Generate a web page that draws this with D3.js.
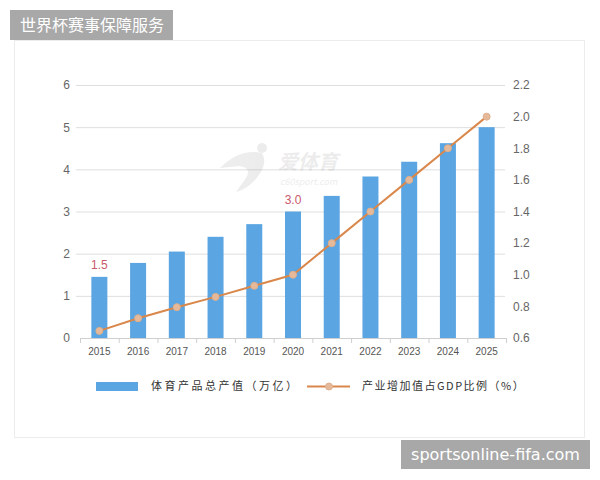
<!DOCTYPE html>
<html>
<head>
<meta charset="utf-8">
<script src="https://cdn.jsdelivr.net/npm/d3@7"></script>
<style>
  body { margin: 0; background: #fff; font-family: "Noto Sans CJK SC", "Liberation Sans", sans-serif; }
</style>
</head>
<body>
<svg id="chart" width="600" height="480"></svg>
<script>
// Data
const years = ['2015', '2016', '2017', '2018', '2019', '2020', '2021', '2022', '2023', '2024', '2025'];
const output = [1.45, 1.78, 2.05, 2.4, 2.7, 3.0, 3.37, 3.83, 4.18, 4.62, 5.0];
const gdpShare = [0.645, 0.725, 0.795, 0.86, 0.93, 1.0, 1.2, 1.4, 1.6, 1.8, 2.0];
const leftTicks = [0, 1, 2, 3, 4, 5, 6];
const rightTicks = [0.6, 0.8, 1.0, 1.2, 1.4, 1.6, 1.8, 2.0, 2.2];
const annotations = [{ year: '2015', text: '1.5' }, { year: '2020', text: '3.0' }];

const svg = d3.select('#chart');

// card
svg.append('rect')
    .attr('x', 14.5).attr('y', 40.5)
    .attr('width', 570).attr('height', 397)
    .attr('fill', '#fff').attr('stroke', '#ececec');

// layout
const plotL = 80, plotR = 506, plotT = 85, plotB = 338;

const x = d3.scaleBand().domain(years).range([plotL, plotR]);
const yL = d3.scaleLinear().domain([0, 6]).range([plotB, plotT]);
const yR = d3.scaleLinear().domain([0.6, 2.2]).range([plotB, plotT]);

// grid
svg.append('g')
    .selectAll('line')
    .data(leftTicks.slice(1))
    .enter()
    .append('line')
    .attr('x1', 76).attr('x2', 505)
    .attr('y1', d => yL(d) + 0.5).attr('y2', d => yL(d) + 0.5)
    .attr('stroke', '#dedede');

// watermark (faint logo)
const wm = svg.append('g').attr('opacity', 0.15).attr('fill', '#888');
wm.append('text').attr('x', 278).attr('y', 169)
    .attr('font-size', 20).attr('font-style', 'italic').attr('font-weight', 'bold')
    .text('爱体育');
wm.append('text').attr('x', 280).attr('y', 185)
    .attr('font-size', 9).attr('font-style', 'italic')
    .text('c60sport.com');
wm.append('path')
    .attr('d', 'M220,168 Q240,148 262,153 Q268,163 258,176 Q250,188 236,192 L246,178 Q252,168 240,166 Z');
wm.append('circle').attr('cx', 262).attr('cy', 148).attr('r', 5);

// bars
svg.append('g')
    .selectAll('rect')
    .data(output)
    .enter()
    .append('rect')
    .attr('x', (d, i) => x(years[i]) + x.bandwidth() / 2 - 8)
    .attr('width', 16)
    .attr('y', d => yL(d))
    .attr('height', d => yL(0) - yL(d))
    .attr('fill', '#5aa5e2');

// x axis
const xAxis = svg.append('g')
    .attr('transform', `translate(0,${plotB})`)
    .call(d3.axisBottom(x).tickSize(0).tickPadding(10));
xAxis.select('.domain').attr('stroke', '#cfcfcf');
xAxis.selectAll('text').attr('fill', '#555').attr('font-size', 10)
    .attr('font-family', 'Liberation Sans, sans-serif');
xAxis.selectAll('.sep')
    .data(years.concat(['end']))
    .enter()
    .append('line')
    .attr('class', 'sep')
    .attr('x1', (d, i) => plotL + i * x.step() + 0.5)
    .attr('x2', (d, i) => plotL + i * x.step() + 0.5)
    .attr('y1', 0).attr('y2', 5)
    .attr('stroke', '#cfcfcf');

// left axis
const yAxisL = svg.append('g')
    .attr('transform', `translate(${plotL},0)`)
    .call(d3.axisLeft(yL).tickValues(leftTicks).tickFormat(d3.format('d')).tickSize(0).tickPadding(10));
yAxisL.select('.domain').remove();
yAxisL.selectAll('text').attr('fill', '#666').attr('font-size', 12)
    .attr('font-family', 'Liberation Sans, sans-serif');

// right axis
const yAxisR = svg.append('g')
    .attr('transform', `translate(${plotR},0)`)
    .call(d3.axisRight(yR).tickValues(rightTicks).tickFormat(d3.format('.1f')).tickSize(0).tickPadding(7));
yAxisR.select('.domain').remove();
yAxisR.selectAll('text').attr('fill', '#666').attr('font-size', 12)
    .attr('font-family', 'Liberation Sans, sans-serif');

// line
const line = d3.line()
    .x((d, i) => x(years[i]) + x.bandwidth() / 2)
    .y(d => yR(d));

svg.append('path')
    .datum(gdpShare)
    .attr('d', line)
    .attr('fill', 'none')
    .attr('stroke', '#d9874a')
    .attr('stroke-width', 2);

svg.append('g')
    .selectAll('circle')
    .data(gdpShare)
    .enter()
    .append('circle')
    .attr('cx', (d, i) => x(years[i]) + x.bandwidth() / 2)
    .attr('cy', d => yR(d))
    .attr('r', 3.5)
    .attr('fill', '#e6b99a')
    .attr('stroke', '#ddb08e');

// value annotations
svg.append('g')
    .selectAll('text')
    .data(annotations)
    .enter()
    .append('text')
    .attr('x', d => x(d.year) + x.bandwidth() / 2)
    .attr('y', d => yL(output[years.indexOf(d.year)]) - 8)
    .attr('text-anchor', 'middle')
    .attr('fill', '#c9576a')
    .attr('font-size', 12)
    .attr('font-family', 'Liberation Sans, sans-serif')
    .text(d => d.text);

// legend
const lg = svg.append('g');
lg.append('rect').attr('x', 96).attr('y', 382).attr('width', 42).attr('height', 9).attr('fill', '#5aa5e2');
lg.append('text').attr('x', 151).attr('y', 390)
    .attr('font-size', 11).attr('fill', '#333').attr('letter-spacing', 2.5)
    .text('体育产品总产值（万亿）');
lg.append('line').attr('x1', 307).attr('x2', 350).attr('y1', 386.5).attr('y2', 386.5)
    .attr('stroke', '#d9874a').attr('stroke-width', 2);
lg.append('circle').attr('cx', 329).attr('cy', 386.5).attr('r', 3.5)
    .attr('fill', '#e6b99a').attr('stroke', '#ddb08e');
lg.append('text').attr('x', 362).attr('y', 390)
    .attr('font-size', 11).attr('fill', '#333').attr('letter-spacing', 1.5)
    .text('产业增加值占GDP比例（%）');

// badges
svg.append('rect').attr('x', 10).attr('y', 10).attr('width', 163).attr('height', 30).attr('fill', '#a8a8a8');
svg.append('text').attr('x', 20).attr('y', 31)
    .attr('fill', '#fff').attr('font-size', 16)
    .text('世界杯赛事保障服务');
svg.append('rect').attr('x', 401).attr('y', 440).attr('width', 189).attr('height', 29).attr('fill', '#a8a8a8');
svg.append('text').attr('x', 495.5).attr('y', 460)
    .attr('text-anchor', 'middle')
    .attr('fill', '#fff').attr('font-size', 16)
    .attr('font-family', 'DejaVu Sans, sans-serif')
    .text('sportsonline-fifa.com');
</script>
</body>
</html>
